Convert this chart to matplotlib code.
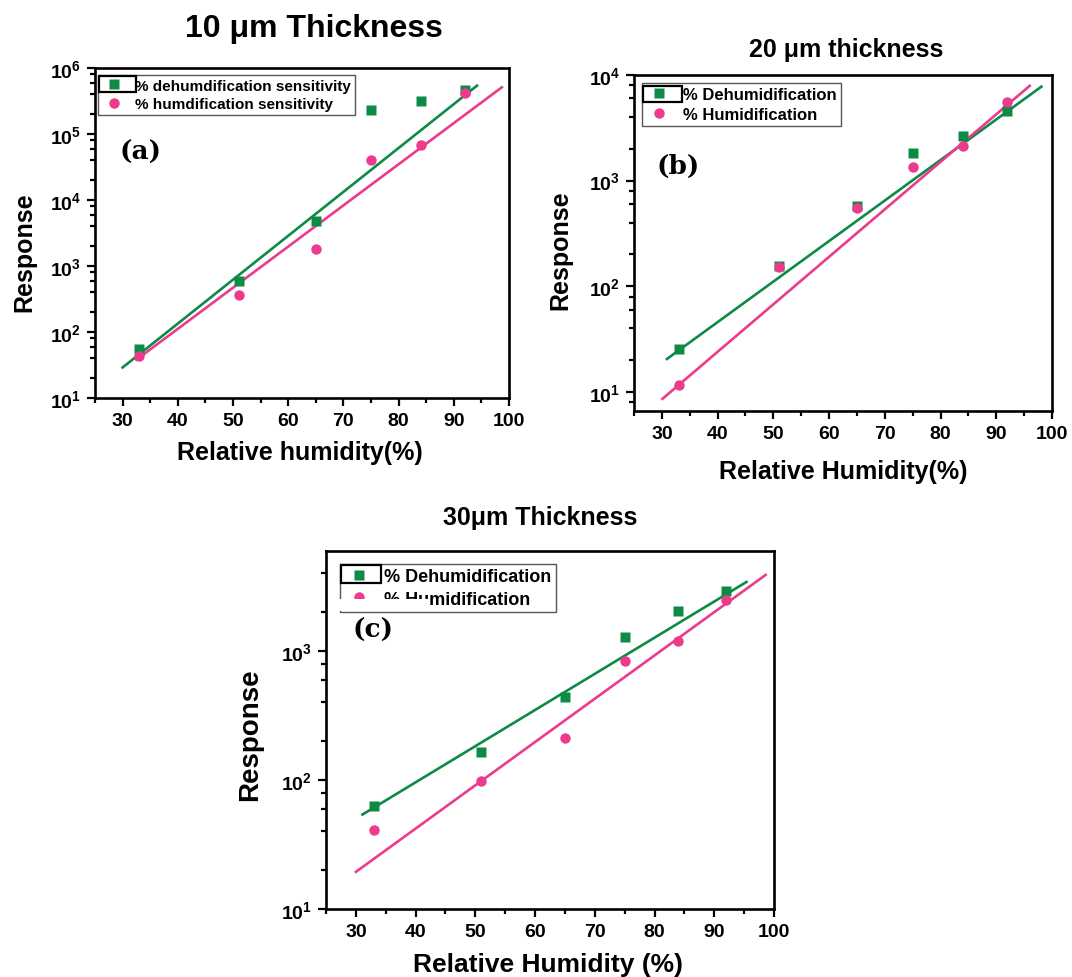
import numpy as np
import matplotlib
matplotlib.use("Agg")
import matplotlib.pyplot as plt
from matplotlib.ticker import MultipleLocator, LogLocator, FuncFormatter, NullFormatter
from matplotlib.patches import Rectangle

plt.rcParams['font.family'] = ['Liberation Sans', 'DejaVu Sans']
plt.rcParams['font.weight'] = 'bold'
plt.rcParams['mathtext.fontset'] = 'custom'
plt.rcParams['mathtext.rm'] = 'Liberation Sans:bold'
plt.rcParams['mathtext.bf'] = 'Liberation Sans:bold'
plt.rcParams['mathtext.it'] = 'Liberation Sans:bold'

GREEN = '#0e8a47'
PINK = '#ec3a8c'

# relative humidity points (same for all three films)
rh = [33, 51, 65, 75, 84, 92]

# (a) 10 um
dehum_a = [55, 590, 4800, 2.3e5, 3.2e5, 4.6e5]
hum_a = [44, 360, 1820, 4.0e4, 6.7e4, 4.2e5]
fit_dehum_a_x = [30, 94.2]
fit_dehum_a_y = [29, 5.4e5]
fit_hum_a_x = [32.5, 98.7]
fit_hum_a_y = [38, 5.1e5]

# (b) 20 um
dehum_b = [25.7, 155, 580, 1820, 2620, 4570]
hum_b = [11.7, 152, 550, 1340, 2150, 5600]
fit_dehum_b_x = [30.9, 98.1]
fit_dehum_b_y = [20.5, 7760]
fit_hum_b_x = [30.1, 96.0]
fit_hum_b_y = [8.6, 7900]

# (c) 30 um
dehum_c = [63, 164, 440, 1280, 2040, 2940]
hum_c = [40.7, 99, 210, 835, 1200, 2500]
fit_dehum_c_x = [31.1, 95.4]
fit_dehum_c_y = [54, 3430]
fit_hum_c_x = [30, 98.6]
fit_hum_c_y = [19.4, 3890]

xticks = [30, 40, 50, 60, 70, 80, 90, 100]


def sup_fmt(v, pos):
    e = int(round(np.log10(v)))
    return r'$\mathbf{10^{%d}}$' % e


def style_axis(ax, ylim):
    ax.set_yscale('log')
    ax.set_xlim(25, 100)
    ax.set_ylim(*ylim)
    ax.set_xticks(xticks)
    ax.xaxis.set_minor_locator(MultipleLocator(5))
    ax.yaxis.set_major_locator(LogLocator(base=10, numticks=10))
    ax.yaxis.set_minor_locator(LogLocator(base=10, subs=(2, 4, 6, 8), numticks=10))
    ax.yaxis.set_major_formatter(FuncFormatter(sup_fmt))
    ax.yaxis.set_minor_formatter(NullFormatter())
    ax.tick_params(which='both', direction='out', top=False, right=False, width=1.6)
    ax.tick_params(which='major', length=6, labelsize=14, pad=4)
    ax.tick_params(which='minor', length=3.5)
    for lab in ax.get_xticklabels() + ax.get_yticklabels():
        lab.set_fontweight('bold')
    for s in ax.spines.values():
        s.set_linewidth(1.9)


def draw_panel(ax, dehum, hum, fdx, fdy, fhx, fhy, labels, lfs, leg_anchor, box, tag, tag_pos):
    ax.plot(fdx, fdy, color=GREEN, lw=1.9, zorder=2)
    ax.plot(fhx, fhy, color=PINK, lw=1.9, zorder=2)
    ax.plot(rh, dehum, 's', color=GREEN, ms=7, mec='none', label=labels[0], zorder=3)
    ax.plot(rh, hum, 'o', color=PINK, ms=7.5, mec='none', label=labels[1], zorder=3)
    leg = ax.legend(loc='upper left', bbox_to_anchor=leg_anchor, borderaxespad=0,
                    fancybox=False, framealpha=1, edgecolor='#555555',
                    prop={'size': lfs, 'weight': 'bold'}, handlelength=1.6,
                    handletextpad=0.6, labelspacing=0.3, borderpad=0.25)
    leg.get_frame().set_linewidth(1.0)
    ax.add_patch(Rectangle((box[0], box[1]), box[2] - box[0], box[3] - box[1],
                           transform=ax.transAxes, fill=False, ec='black', lw=1.6,
                           zorder=10, clip_on=False))
    ax.text(tag_pos[0], tag_pos[1], tag, transform=ax.transAxes, ha='center', va='center',
            fontsize=19, fontweight='bold', family='DejaVu Serif')
    return leg


fig = plt.figure(figsize=(10.72, 9.78), dpi=100)
W, H = 1072.0, 978.0

ax_a = fig.add_axes([95 / W, 1 - 399 / H, 414 / W, 330 / H])
ax_b = fig.add_axes([634 / W, 1 - 412 / H, 418 / W, 336 / H])
ax_c = fig.add_axes([326 / W, 1 - 910 / H, 448 / W, 358 / H])

draw_panel(ax_a, dehum_a, hum_a, fit_dehum_a_x, fit_dehum_a_y, fit_hum_a_x, fit_hum_a_y,
           ['% dehumdification sensitivity', '% humdification sensitivity'], 11,
           (0.007, 0.979), (0.01, 0.927, 0.099, 0.976), '(a)', (0.111, 0.748))
style_axis(ax_a, (10, 1e6))

draw_panel(ax_b, dehum_b, hum_b, fit_dehum_b_x, fit_dehum_b_y, fit_hum_b_x, fit_hum_b_y,
           ['% Dehumidification', '% Humidification'], 12,
           (0.019, 0.976), (0.021, 0.920, 0.115, 0.967), '(b)', (0.106, 0.732))
style_axis(ax_b, (6.6, 1e4))

draw_panel(ax_c, dehum_c, hum_c, fit_dehum_c_x, fit_dehum_c_y, fit_hum_c_x, fit_hum_c_y,
           ['% Dehumidification', '% Humidification'], 13,
           (0.031, 0.964), (0.033, 0.911, 0.123, 0.961), '(c)', (0.105, 0.782))
style_axis(ax_c, (10, 5960))
# white patch that hides part of the legend frame in panel (c)
ax_c.add_patch(Rectangle((0.024, 0.832), 0.204, 0.034, transform=ax_c.transAxes,
                         fc='white', ec='none', zorder=11))

# titles
fig.text(314 / W, 1 - 29 / H, '10 μm Thickness', ha='center', va='center', fontsize=23, fontweight='bold')
fig.text(846 / W, 1 - 50 / H, '20 μm thickness', ha='center', va='center', fontsize=18, fontweight='bold')
fig.text(540 / W, 1 - 518 / H, '30μm Thickness', ha='center', va='center', fontsize=18, fontweight='bold')

# axis labels
fig.text(300 / W, 1 - 453 / H, 'Relative humidity(%)', ha='center', va='center', fontsize=18, fontweight='bold')
fig.text(24 / W, 1 - 252 / H, 'Response', ha='center', va='center', rotation=90, fontsize=18, fontweight='bold')
fig.text(843 / W, 1 - 472 / H, 'Relative Humidity(%)', ha='center', va='center', fontsize=18, fontweight='bold')
fig.text(560 / W, 1 - 250 / H, 'Response', ha='center', va='center', rotation=90, fontsize=18, fontweight='bold')
fig.text(548 / W, 1 - 965 / H, 'Relative Humidity (%)', ha='center', va='center', fontsize=19, fontweight='bold')
fig.text(250 / W, 1 - 735 / H, 'Response', ha='center', va='center', rotation=90, fontsize=20, fontweight='bold')

fig.savefig('out.png', dpi=100)
